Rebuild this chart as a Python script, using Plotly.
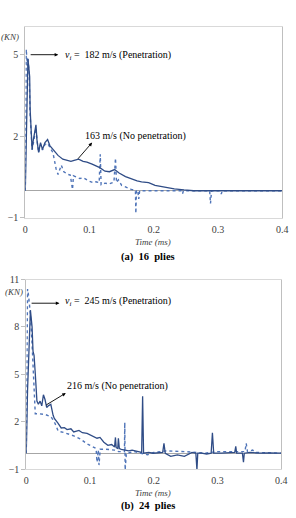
import plotly.graph_objects as go

# ---------------- (a) 16 plies ----------------
t16_pen = [0, 0.0015, 0.003, 0.004, 0.006, 0.0075, 0.0106, 0.0135, 0.0166, 0.0185, 0.0207, 0.0237,
           0.0267, 0.0306, 0.0347, 0.0382, 0.043, 0.048, 0.051, 0.056, 0.06, 0.066, 0.07, 0.0735,
           0.075, 0.08, 0.085, 0.09, 0.095, 0.1, 0.105, 0.11, 0.115, 0.1167, 0.118, 0.124, 0.13,
           0.135, 0.138, 0.1404, 0.142, 0.145, 0.15, 0.155, 0.16, 0.165, 0.17, 0.1715, 0.1721,
           0.173, 0.175, 0.1766, 0.178, 0.19, 0.21, 0.23, 0.244, 0.245, 0.246, 0.26, 0.287, 0.2883,
           0.29, 0.303, 0.305, 0.307, 0.33, 0.36, 0.4]
f16_pen = [0, 5.2, 4.6, 4.9, 4.3, 2.8, 1.5, 1.9, 2.3, 1.8, 1.4, 1.7,
           1.5, 1.7, 1.75, 1.6, 1.4, 0.8, 0.6, 0.94, 0.7, 0.6, 0.58, 0.05,
           0.55, 0.5, 0.45, 0.48, 0.4, 0.35, 0.3, 0.33, 0.3, 1.34, 0.22, 0.28, 0.25,
           0.3, 0.32, 1.2, 0.3, 0.4, 0.2, 0.15, 0.1, 0.05, 0.03, 0.0, -0.83,
           0.0, 0.02, -0.3, 0.0, 0.0, 0.0, 0.0, 0.0, -0.1, 0.0, 0.0, 0.0, -0.47,
           0.0, 0.0, -0.12, 0.0, 0.0, 0.0, 0.0]

t16_nopen = [0, 0.0015, 0.0041, 0.0056, 0.0068, 0.0075, 0.009, 0.0106, 0.012, 0.0143, 0.0166, 0.0181,
             0.0207, 0.0237, 0.0267, 0.0306, 0.0347, 0.0382, 0.0433, 0.0509, 0.0584, 0.066, 0.071,
             0.076, 0.083, 0.09, 0.096, 0.104, 0.111, 0.116, 0.124, 0.131, 0.139, 0.146, 0.156,
             0.166, 0.174, 0.181, 0.192, 0.202, 0.21, 0.217, 0.232, 0.247, 0.262, 0.3, 0.35, 0.4]
f16_nopen = [0, 2.0, 4.84, 4.5, 4.19, 3.0, 2.2, 1.52, 1.8, 2.2, 2.42, 1.88,
             1.41, 1.77, 1.52, 1.77, 1.88, 1.66, 1.52, 1.3, 1.16, 1.12, 1.08,
             1.12, 1.16, 1.08, 1.05, 0.98, 0.9, 0.85, 0.72, 0.7, 0.78, 0.65, 0.52,
             0.42, 0.36, 0.33, 0.3, 0.2, 0.16, 0.13, 0.07, 0.03, 0.0, 0.0, 0.0, 0.0]

# ---------------- (b) 24 plies ----------------
t24_pen = [0, 0.002, 0.0035, 0.005, 0.0065, 0.009, 0.011, 0.0125, 0.0141, 0.02, 0.03, 0.039,
           0.045, 0.05, 0.06, 0.0745, 0.085, 0.095, 0.1055, 0.1095, 0.111, 0.113, 0.1141, 0.116,
           0.125, 0.1384, 0.145, 0.154, 0.1545, 0.1551, 0.157, 0.17, 0.19, 0.2, 0.22, 0.25, 0.28,
           0.3, 0.32, 0.343, 0.345, 0.347, 0.355, 0.36, 0.4]
f24_pen = [0, 10.4, 10.0, 9.5, 8.8, 7.0, 5.0, 3.0, 2.5, 2.5, 2.45, 2.3,
           1.9, 1.4, 1.3, 1.1, 0.9, 0.6, 0.37, 0.3, -0.56, 0.2, -0.75, 0.25,
           0.25, 0.2, 0.1, 0.1, 1.94, -1.06, 0.0, 0.1, -0.1, 0.05, 0.15, 0.1, 0.0,
           0.1, 0.1, 0.1, 0.62, 0.1, 0.2, 0.05, 0.0]

t24_nopen = [0, 0.002, 0.0065, 0.0076, 0.0091, 0.0106, 0.0122, 0.0141, 0.0152, 0.0167, 0.019,
             0.0217, 0.0243, 0.0269, 0.0294, 0.032, 0.0345, 0.0385, 0.0421, 0.044, 0.0497, 0.0548,
             0.0598, 0.064, 0.07, 0.0745, 0.0826, 0.088, 0.0954, 0.103, 0.111, 0.1156, 0.1217,
             0.128, 0.134, 0.1385, 0.1399, 0.141, 0.1435, 0.1445, 0.146, 0.149, 0.155, 0.161,
             0.166, 0.176, 0.181, 0.1825, 0.184, 0.192, 0.199, 0.214, 0.216, 0.218, 0.2266,
             0.237, 0.248, 0.26, 0.266, 0.2677, 0.269, 0.275, 0.2829, 0.29, 0.292, 0.294, 0.306,
             0.327, 0.3286, 0.33, 0.339, 0.3407, 0.342, 0.351, 0.366, 0.38, 0.4]
f24_nopen = [0, 4.0, 9.06, 8.7, 8.0, 6.44, 6.2, 5.06, 3.8, 3.3, 3.1,
             3.3, 3.0, 3.7, 3.4, 2.9, 3.0, 3.1, 2.4, 2.2, 1.9, 1.6,
             1.62, 1.5, 1.55, 1.35, 1.44, 1.3, 1.25, 1.1, 0.95, 1.0, 0.7,
             0.5, 0.55, 0.4, 1.0, 0.35, 0.3, 0.94, 0.3, 0.25, 0.2, 0.15,
             0.2, 0.1, 0.05, 3.6, 0.0, 0.05, 0.0, 0.05, 0.62, 0.0, -0.2,
             -0.1, -0.2, 0.05, 0.0, -1.06, 0.0, 0.0, -0.05, 0.0, 1.3, 0.0, 0.0,
             0.05, 0.44, 0.0, 0.0, -0.56, 0.0, 0.05, 0.0, 0.02, 0.0]

x_ticks = [0, 0.1, 0.2, 0.3, 0.4]
x_ticklabels = ["0", "0.1", "0.2", "0.3", "0.4"]
y16_ticks = [-1, 2, 5]
y24_ticks = [-1, 2, 5, 8, 11]

SOLID = "#2F4C86"
DOTTED = "#4F74B8"
SERIF = "Liberation Serif, Times New Roman, serif"
W, H = 296, 518

fig = go.Figure()
fig.add_trace(go.Scatter(x=t16_pen, y=f16_pen, mode="lines", xaxis="x", yaxis="y",
                         line=dict(color=DOTTED, width=1.4, dash="dot"), showlegend=False))
fig.add_trace(go.Scatter(x=t16_nopen, y=f16_nopen, mode="lines", xaxis="x", yaxis="y",
                         line=dict(color=SOLID, width=1.3), showlegend=False))
fig.add_trace(go.Scatter(x=t24_pen, y=f24_pen, mode="lines", xaxis="x2", yaxis="y2",
                         line=dict(color=DOTTED, width=1.4, dash="dot"), showlegend=False))
fig.add_trace(go.Scatter(x=t24_nopen, y=f24_nopen, mode="lines", xaxis="x2", yaxis="y2",
                         line=dict(color=SOLID, width=1.3), showlegend=False))

tickfont = dict(family=SERIF, size=10, color="#404040")
common_x = dict(range=[0, 0.4], tickvals=x_ticks, ticktext=x_ticklabels, tickfont=tickfont,
                showgrid=False, zeroline=False, showline=True, linecolor="#D9D9D9", mirror=True,
                ticks="", ticklabelstandoff=2, fixedrange=True)
common_y = dict(showgrid=False, zeroline=True, zerolinecolor="#A6A6A6", zerolinewidth=1,
                showline=True, linecolor="#BFBFBF", mirror=True, ticks="outside", ticklen=4,
                tickcolor="#BFBFBF", tickfont=tickfont, fixedrange=True)

def py(p):
    return 1 - p / H

fig.update_layout(
    width=W, height=H, margin=dict(l=0, r=0, t=0, b=0),
    paper_bgcolor="white", plot_bgcolor="white",
    xaxis=dict(domain=[23 / W, 288 / W], anchor="y", **common_x),
    yaxis=dict(domain=[py(217), py(22)], range=[-1, 6], tickvals=y16_ticks, anchor="x", **common_y),
    xaxis2=dict(domain=[24 / W, 287 / W], anchor="y2", **common_x),
    yaxis2=dict(domain=[py(474), py(280)], range=[-1, 11], tickvals=y24_ticks, anchor="x2", **common_y),
)

ann = []
txt = dict(family=SERIF, size=10, color="black")
ital = dict(family=SERIF, size=9, color="#404040")
arrow = dict(showarrow=True, arrowhead=2, arrowsize=0.8, arrowwidth=0.9, arrowcolor="black", text="")


def label(x, y, text, font, xanchor="center"):
    return dict(x=x / W, y=py(y), xref="paper", yref="paper", xanchor=xanchor, yanchor="middle",
                text=text, showarrow=False, font=font)


# arrows (head at text end)
ann.append(dict(x=0.0513, y=5, xref="x", yref="y", ax=0.006, ay=5, axref="x", ayref="y", **arrow))
ann.append(label(62, 51, "<i>v</i><sub><i>i</i></sub> =  182 m/s (Penetration)", txt, "left"))
ann.append(dict(x=0.104, y=1.77, xref="x", yref="y", ax=0.08, ay=1.12, axref="x", ayref="y", **arrow))
ann.append(label(83, 133, "163 m/s (No penetration)", txt, "left"))

ann.append(dict(x=0.052, y=9.5, xref="x2", yref="y2", ax=0.006, ay=9.5, axref="x2", ayref="y2", **arrow))
ann.append(label(62, 303, "<i>v</i><sub><i>i</i></sub> =  245 m/s (Penetration)", txt, "left"))
ann.append(dict(x=0.062, y=3.81, xref="x2", yref="y2", ax=0.029, ay=3.0, axref="x2", ayref="y2", **arrow))
ann.append(label(64, 389, "216 m/s (No penetration)", txt, "left"))

# axis labels and captions
ann.append(label(7, 32, "<i>(KN)</i>", ital))
ann.append(label(11, 293, "<i>(KN)</i>", ital))
ann.append(label(155, 242, "<i>Time (ms)</i>", ital))
ann.append(label(155, 499, "<i>Time (ms)</i>", ital))
cap = dict(family=SERIF, size=10.5, color="black")
ann.append(label(150, 257, "<b>(a)  16  plies</b>", cap))
ann.append(label(150, 512, "<b>(b)  24  plies</b>", cap))
fig.update_layout(annotations=ann)

fig.write_html("out.html")
